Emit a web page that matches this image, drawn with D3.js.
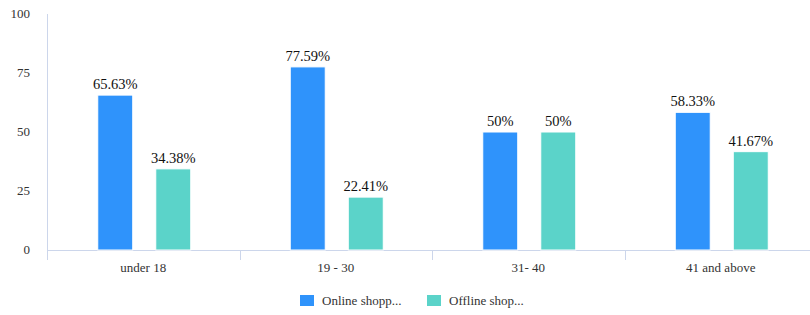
<!DOCTYPE html>
<html>
<head>
<script src="https://cdnjs.cloudflare.com/ajax/libs/d3/7.8.5/d3.min.js"></script>
<style>
  body { margin: 0; background: #fff; }
  text { font-family: "Liberation Serif", "Times New Roman", serif; }
</style>
</head>
<body>
<script>
  // data
  var categories = ["under 18", "19 - 30", "31- 40", "41 and above"];
  var seriesNames = ["Online shopp...", "Offline shop..."];
  var online = [65.63, 77.59, 50, 58.33];
  var offline = [34.38, 22.41, 50, 41.67];
  var valueLabels = [["65.63%", "77.59%", "50%", "58.33%"], ["34.38%", "22.41%", "50%", "41.67%"]];
  var yTicks = [0, 25, 50, 75, 100];

  var colors = ["#2f93fb", "#5bd3c9"];
  var width = 810, height = 315;
  var plotLeft = 47, plotRight = 817, plotTop = 14, plotBottom = 250;

  var svg = d3.select("body").append("svg")
      .attr("width", width)
      .attr("height", height);

  var x = d3.scaleBand().domain(categories).range([plotLeft, plotRight]);
  var xInner = d3.scaleBand().domain([0, 1]).range([0, 93]).paddingInner(0.397);
  var y = d3.scaleLinear().domain([0, 100]).range([plotBottom, plotTop]);

  // y axis line
  svg.append("line")
      .attr("x1", plotLeft + 0.5).attr("x2", plotLeft + 0.5)
      .attr("y1", plotTop).attr("y2", plotBottom + 10)
      .attr("stroke", "#ccd6eb");

  // x axis line
  svg.append("line")
      .attr("x1", plotLeft).attr("x2", plotRight)
      .attr("y1", plotBottom + 0.5).attr("y2", plotBottom + 0.5)
      .attr("stroke", "#ccd6eb");

  // category ticks
  svg.selectAll(".ctick")
      .data(categories)
      .enter().append("line")
      .attr("x1", function(d) { return Math.round(x(d)) + 0.5; })
      .attr("x2", function(d) { return Math.round(x(d)) + 0.5; })
      .attr("y1", plotBottom).attr("y2", plotBottom + 10)
      .attr("stroke", "#ccd6eb");

  // y tick labels
  svg.selectAll(".ylab")
      .data(yTicks)
      .enter().append("text")
      .attr("x", 30)
      .attr("y", function(d) { return y(d) + 4; })
      .attr("text-anchor", "end")
      .style("font-size", "13px")
      .style("fill", "#333")
      .text(function(d) { return d; });

  // category labels
  svg.selectAll(".xlab")
      .data(categories)
      .enter().append("text")
      .attr("x", function(d) { return x(d) + x.bandwidth() / 2; })
      .attr("y", plotBottom + 22)
      .attr("text-anchor", "middle")
      .style("font-size", "13px")
      .style("fill", "#333")
      .text(function(d) { return d; });

  var series = [online, offline];
  series.forEach(function(vals, s) {
    var g = svg.append("g");
    var offset = (x.bandwidth() - 93) / 2 + 1;
    g.selectAll("rect")
        .data(vals)
        .enter().append("rect")
        .attr("x", function(d, i) { return x(categories[i]) + offset + xInner(s); })
        .attr("y", function(d) { return y(d); })
        .attr("width", xInner.bandwidth())
        .attr("height", function(d) { return plotBottom - y(d); })
        .attr("fill", colors[s])
        .attr("stroke", "#fff")
        .attr("stroke-width", 1);

    g.selectAll("text")
        .data(vals)
        .enter().append("text")
        .attr("x", function(d, i) { return x(categories[i]) + offset + xInner(s) + xInner.bandwidth() / 2; })
        .attr("y", function(d) { return y(d) - 6; })
        .attr("text-anchor", "middle")
        .style("font-size", "14.5px")
        .style("fill", "#111")
        .text(function(d, i) { return valueLabels[s][i]; });
  });

  // legend
  var legendX = [300, 427];
  var legend = svg.selectAll(".legend")
      .data(seriesNames)
      .enter().append("g")
      .attr("transform", function(d, i) { return "translate(" + legendX[i] + ",295)"; });

  legend.append("rect")
      .attr("width", 14).attr("height", 11)
      .attr("fill", function(d, i) { return colors[i]; });

  legend.append("text")
      .attr("x", 22).attr("y", 10)
      .style("font-size", "13px")
      .style("fill", "#333")
      .text(function(d) { return d; });
</script>
</body>
</html>
